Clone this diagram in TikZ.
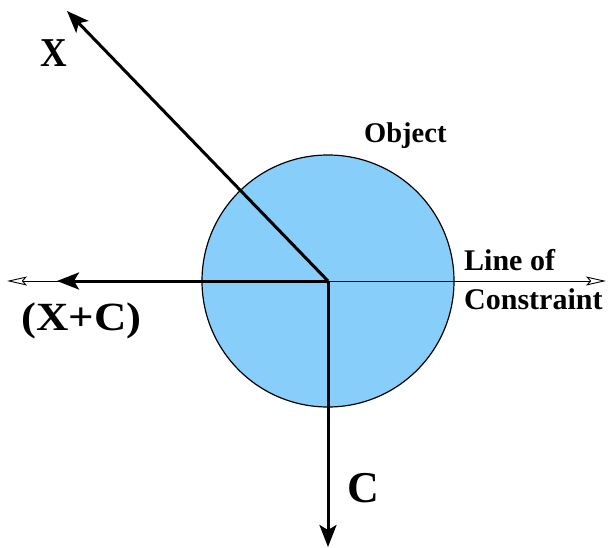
\documentclass[tikz,border=0pt]{standalone}
\usepackage{fontspec}
\setmainfont{Liberation Serif}
\usetikzlibrary{arrows.meta}
\definecolor{objblue}{RGB}{135,206,250}
\tikzset{
  lbl/.style={inner sep=0pt, anchor=base west, font=\bfseries},
  thickarrow/.style={line width=3pt, -{Stealth[length=22pt,width=17pt,inset=5pt]}},
  thinline/.style={line width=0.9pt, {Stealth[open,length=20pt,width=9pt,inset=4pt]}-{Stealth[open,length=20pt,width=9pt,inset=4pt]}},
}
\begin{document}
\begin{tikzpicture}[x=1pt,y=-1pt]
\useasboundingbox (0,0) rectangle (610,548);
\node[circle, draw=black, line width=1.2pt, fill=objblue, minimum size=252pt, inner sep=0pt] (obj) at (328,281) {};
\coordinate (o) at (328,281);
\coordinate (lineL) at (7,281);
\coordinate (lineR) at (606,281);
\coordinate (xend) at (67,11);
\coordinate (xcend) at (57,281);
\coordinate (cend) at (328,547);
\draw[thinline] (lineL) -- (lineR);
\draw[thickarrow] (o) -- (xend);
\draw[thickarrow] (o) -- (xcend);
\draw[thickarrow] (o) -- (cend);
\node[lbl, font=\fontsize{41}{41}\selectfont\bfseries] (xlbl) at (40,67) {\scalebox{0.9}[1]{X}};
\node[lbl, font=\fontsize{44}{44}\selectfont\bfseries] (clbl) at (347,502) {C};
\node[lbl, font=\fontsize{40}{40}\selectfont\bfseries] (xclbl) at (21,330) {\scalebox{1.12}[1]{(X+C)}};
\node[lbl, font=\fontsize{28.5}{28.5}\selectfont\bfseries] (objlbl) at (364,143) {Object};
\node[lbl, font=\fontsize{30}{30}\selectfont\bfseries] (l1) at (464,270) {Line of};
\node[lbl, font=\fontsize{30}{30}\selectfont\bfseries] (l2) at (464,309) {Constraint};
\end{tikzpicture}
\end{document}
